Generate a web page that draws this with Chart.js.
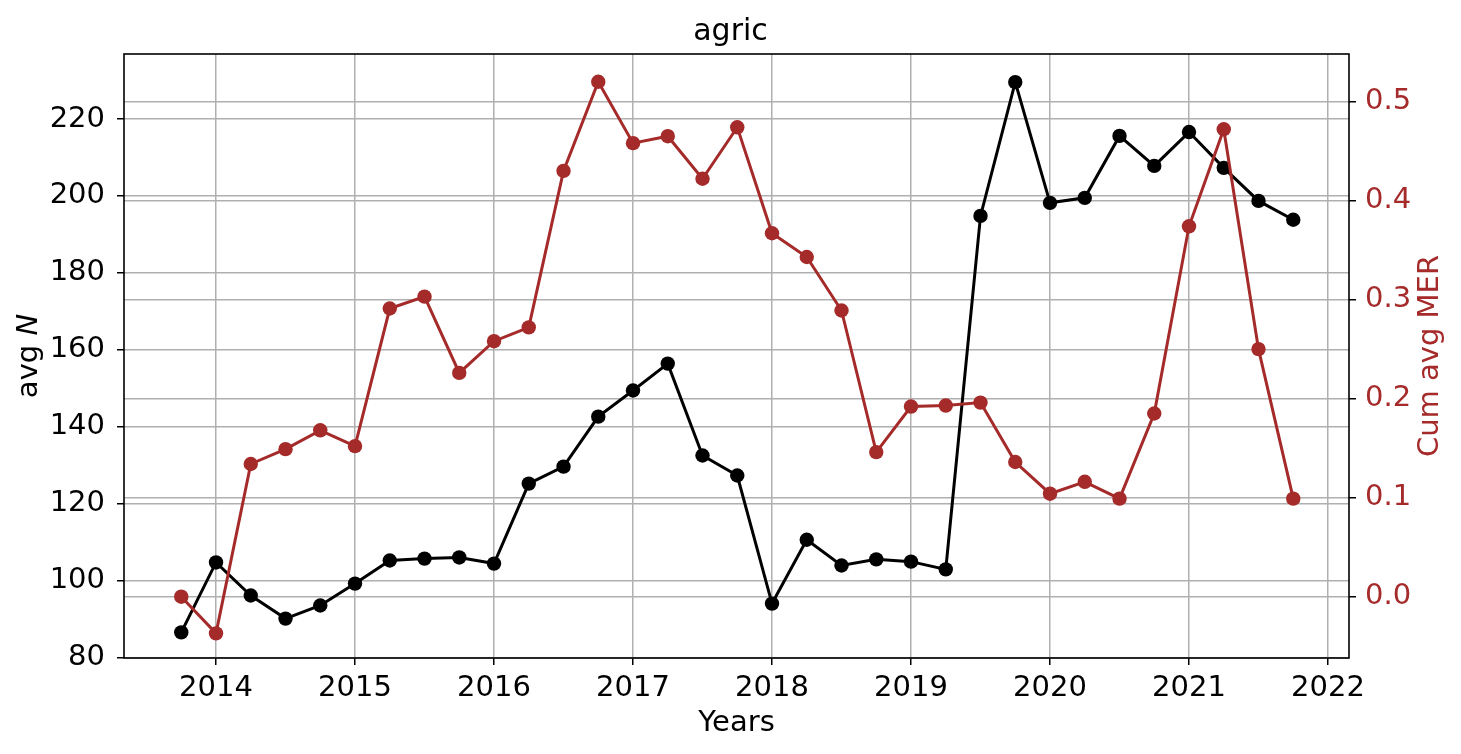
<!DOCTYPE html>
<html>
<head>
<meta charset="utf-8">
<title>agric</title>
<script src="https://cdn.jsdelivr.net/npm/chart.js@4/dist/chart.umd.min.js"></script>
<style>
  body { margin: 0; background: #fff; }
  #wrap { width: 1461px; height: 754px; }
</style>
</head>
<body>
<div id="wrap"><canvas id="chartLine" width="1461" height="754"></canvas></div>
<script>
// quarters as decimal years
const quarters = [2013.75, 2014.0, 2014.25, 2014.5, 2014.75, 2015.0, 2015.25, 2015.5, 2015.75,
    2016.0, 2016.25, 2016.5, 2016.75, 2017.0, 2017.25, 2017.5, 2017.75,
    2018.0, 2018.25, 2018.5, 2018.75, 2019.0, 2019.25, 2019.5, 2019.75,
    2020.0, 2020.25, 2020.5, 2020.75, 2021.0, 2021.25, 2021.5, 2021.75];

const avgN = [86.5, 104.7, 96.1, 90.1, 93.5, 99.2, 105.2, 105.7, 106.0,
    104.4, 125.2, 129.6, 142.6, 149.4, 156.4, 132.5, 127.3,
    94.0, 110.6, 103.9, 105.5, 104.9, 102.9, 194.8, 229.6,
    198.2, 199.5, 215.6, 207.8, 216.6, 207.3, 198.7, 193.8];

const cumMER = [0.0, -0.037, 0.134, 0.149, 0.168, 0.152, 0.291, 0.303, 0.226,
    0.258, 0.272, 0.430, 0.520, 0.458, 0.465, 0.422, 0.474,
    0.367, 0.343, 0.289, 0.146, 0.192, 0.193, 0.196, 0.136,
    0.104, 0.116, 0.099, 0.185, 0.374, 0.472, 0.250, 0.099];

const xTicks = [2014, 2015, 2016, 2017, 2018, 2019, 2020, 2021, 2022];
const leftTicks = [80, 100, 120, 140, 160, 180, 200, 220];
const rightTicks = [0.0, 0.1, 0.2, 0.3, 0.4, 0.5];

const RED = '#a52a2a';
const GRID = '#b0b0b0';
const FONT = 'DejaVu Sans';

function pts(ys) {
    return quarters.map(function(x, i) { return {x: x, y: ys[i]}; });
}

function fixTicks(list) {
    return function(scale) {
        scale.ticks = list.map(function(v) { return {value: v}; });
    };
}

// frame around the plot area and both y axis labels (read bottom to top, N in italics)
const framePlugin = {
    id: 'frame',
    afterDraw: function(chart) {
        const ctx = chart.ctx;
        const a = chart.chartArea;
        const midY = (a.top + a.bottom) / 2;
        ctx.save();
        ctx.strokeStyle = '#000';
        ctx.lineWidth = 1.6;
        ctx.strokeRect(a.left, a.top, a.right - a.left, a.bottom - a.top);
        ctx.restore();

        ctx.save();
        ctx.translate(1430, midY);
        ctx.rotate(-Math.PI / 2);
        ctx.fillStyle = RED;
        ctx.font = '29px "' + FONT + '"';
        ctx.textAlign = 'center';
        ctx.textBaseline = 'middle';
        ctx.fillText('Cum avg MER', 0, 0);
        ctx.restore();

        ctx.save();
        ctx.translate(29, midY);
        ctx.rotate(-Math.PI / 2);
        ctx.fillStyle = '#000';
        ctx.textBaseline = 'middle';
        ctx.textAlign = 'left';
        const normal = '29px "' + FONT + '"';
        const italic = 'italic 29px "' + FONT + '"';
        ctx.font = normal;
        const w1 = ctx.measureText('avg ').width;
        ctx.font = italic;
        const w2 = ctx.measureText('N').width;
        const start = -(w1 + w2) / 2;
        ctx.font = normal;
        ctx.fillText('avg ', start, 0);
        ctx.font = italic;
        ctx.fillText('N', start + w1, 0);
        ctx.restore();
    }
};

const tickFont = {family: FONT, size: 29};
const gridOpts = {color: GRID, lineWidth: 1.5, tickColor: '#000', tickLength: 7, tickWidth: 1.5};

new Chart(document.getElementById('chartLine'), {
    type: 'line',
    data: {
        datasets: [
            {
                label: 'avg N',
                data: pts(avgN),
                yAxisID: 'yLeft',
                borderColor: '#000',
                backgroundColor: '#000',
                borderWidth: 3,
                pointRadius: 7.2,
                pointHoverRadius: 7.2,
                pointBorderWidth: 0,
                order: 2
            },
            {
                label: 'Cum avg MER',
                data: pts(cumMER),
                yAxisID: 'yRight',
                borderColor: RED,
                backgroundColor: RED,
                borderWidth: 3,
                pointRadius: 7.2,
                pointHoverRadius: 7.2,
                pointBorderWidth: 0,
                order: 1
            }
        ]
    },
    options: {
        responsive: false,
        animation: false,
        layout: {padding: 0},
        plugins: {
            legend: {display: false},
            tooltip: {enabled: false},
            title: {
                display: true,
                text: 'agric',
                color: '#000',
                font: {family: FONT, size: 30, weight: 'normal', lineHeight: 1.2},
                padding: {top: 14, bottom: 4}
            }
        },
        scales: {
            x: {
                type: 'linear',
                position: 'bottom',
                min: 2013.338,
                max: 2022.151,
                afterBuildTicks: fixTicks(xTicks),
                afterFit: function(scale) { scale.height = 96; },
                ticks: {
                    color: '#000',
                    font: tickFont,
                    padding: 6,
                    maxRotation: 0,
                    autoSkip: false,
                    callback: function(v) { return String(v); }
                },
                grid: gridOpts,
                border: {display: false},
                title: {
                    display: true,
                    text: 'Years',
                    color: '#000',
                    font: {family: FONT, size: 29, lineHeight: 1.2},
                    padding: {top: 0, bottom: 13}
                }
            },
            yLeft: {
                type: 'linear',
                position: 'left',
                min: 79.85,
                max: 236.9,
                afterBuildTicks: fixTicks(leftTicks),
                afterFit: function(scale) { scale.width = 124; },
                ticks: {color: '#000', font: tickFont, padding: 12},
                grid: gridOpts,
                border: {display: false}
            },
            yRight: {
                type: 'linear',
                position: 'right',
                min: -0.0619,
                max: 0.548,
                afterBuildTicks: fixTicks(rightTicks),
                afterFit: function(scale) { scale.width = 112; },
                ticks: {
                    color: RED,
                    font: tickFont,
                    padding: 9,
                    callback: function(v) { return v.toFixed(1); }
                },
                grid: gridOpts,
                border: {display: false}
            }
        }
    },
    plugins: [framePlugin]
});
</script>
</body>
</html>
